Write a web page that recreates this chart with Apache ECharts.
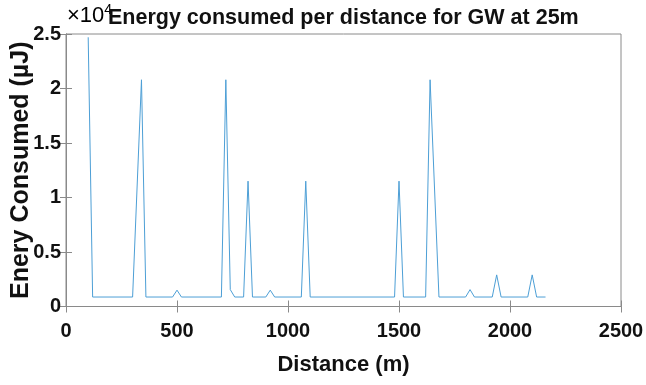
<!DOCTYPE html>
<html>
<head>
<meta charset="utf-8">
<script src="https://cdn.jsdelivr.net/npm/echarts@6/dist/echarts.min.js"></script>
<style>
  html, body { margin: 0; padding: 0; background: #fff; }
  #chart { width: 646px; height: 385px; }
</style>
</head>
<body>
<div id="chart"></div>
<script>
// Distance along the route (m) where the energy trace changes slope
const distances = [100, 120, 300, 340, 360, 480, 500, 520, 700, 720, 740, 760, 800, 820, 840,
  900, 920, 940, 1060, 1080, 1100, 1480, 1500, 1520, 1620, 1640, 1680, 1800, 1820, 1840,
  1920, 1940, 1960, 2080, 2100, 2120, 2160];
// Energy consumed at each distance (µJ)
const energy = [24700, 870, 870, 20800, 870, 870, 1500, 870, 870, 20800, 1550, 870, 870, 11500, 870,
  870, 1500, 870, 870, 11500, 870, 870, 11500, 870, 870, 20800, 870, 870, 1550, 870,
  870, 2900, 870, 870, 2900, 870, 870];
// Axis ticks
const xTicks = [0, 500, 1000, 1500, 2000, 2500];
const yTicks = [0, 5000, 10000, 15000, 20000, 25000];

const points = distances.map((d, i) => [d, energy[i]]);

const axisGray = '#8a8a8a';
const boldFont = '"Liberation Sans", Arial, sans-serif';

const chart = echarts.init(document.getElementById('chart'), null, { renderer: 'canvas' });

chart.setOption({
  animation: false,
  backgroundColor: '#ffffff',
  title: {
    text: 'Energy consumed per distance for GW at 25m',
    left: 103,
    top: 2,
    textStyle: { fontFamily: boldFont, fontWeight: 'bold', fontSize: 21.5, color: '#111' }
  },
  graphic: [{
    type: 'text',
    left: 67,
    top: 3,
    style: {
      text: '{a|×10}{b|4}',
      rich: {
        a: { fontFamily: boldFont, fontSize: 22, color: '#222', verticalAlign: 'bottom' },
        b: { fontFamily: boldFont, fontSize: 14, color: '#222', verticalAlign: 'top', padding: [0, 0, 10, 0] }
      }
    }
  }],
  grid: {
    left: 66, right: 25, top: 34, bottom: 78.5,
    containLabel: false,
    outerBoundsMode: 'none',
    show: true, borderColor: axisGray, borderWidth: 1, backgroundColor: '#fff'
  },
  xAxis: [{
    type: 'value',
    min: xTicks[0], max: xTicks[xTicks.length - 1], interval: 500,
    name: 'Distance (m)',
    nameLocation: 'middle',
    nameGap: 47,
    nameMoveOverlap: false,
    nameTextStyle: { fontFamily: boldFont, fontWeight: 'bold', fontSize: 22, color: '#111' },
    axisLine: { show: true, lineStyle: { color: axisGray, width: 1 } },
    axisTick: { show: true, inside: true, length: 6, lineStyle: { color: axisGray } },
    axisLabel: {
      fontFamily: boldFont, fontWeight: 'bold', fontSize: 20, color: '#111', margin: 15,
      formatter: v => String(v)
    },
    splitLine: { show: false }
  }, {
    type: 'value', position: 'top',
    min: xTicks[0], max: xTicks[xTicks.length - 1], interval: 500,
    axisLine: { show: true, lineStyle: { color: axisGray, width: 1 } },
    axisTick: { show: true, inside: true, length: 6, lineStyle: { color: axisGray } },
    axisLabel: { show: false },
    splitLine: { show: false }
  }],
  yAxis: [{
    type: 'value',
    min: yTicks[0], max: yTicks[yTicks.length - 1], interval: 5000,
    name: 'Enery Consumed (µJ)',
    nameLocation: 'middle',
    nameGap: 32,
    nameMoveOverlap: false,
    nameTextStyle: { fontFamily: boldFont, fontWeight: 'bold', fontSize: 25, color: '#111' },
    axisLine: { show: true, lineStyle: { color: axisGray, width: 1 } },
    axisTick: { show: true, inside: true, length: 6, lineStyle: { color: axisGray } },
    axisLabel: {
      fontFamily: boldFont, fontWeight: 'bold', fontSize: 20, color: '#111', margin: 5,
      formatter: v => String(v / 10000)
    },
    splitLine: { show: false }
  }, {
    type: 'value', position: 'right',
    min: yTicks[0], max: yTicks[yTicks.length - 1], interval: 5000,
    axisLine: { show: true, lineStyle: { color: axisGray, width: 1 } },
    axisTick: { show: true, inside: true, length: 6, lineStyle: { color: axisGray } },
    axisLabel: { show: false },
    splitLine: { show: false }
  }],
  series: [{
    type: 'line',
    data: points,
    xAxisIndex: 0,
    yAxisIndex: 0,
    showSymbol: false,
    lineStyle: { color: '#4d9fd6', width: 1 },
    silent: true
  }]
});
</script>
</body>
</html>
